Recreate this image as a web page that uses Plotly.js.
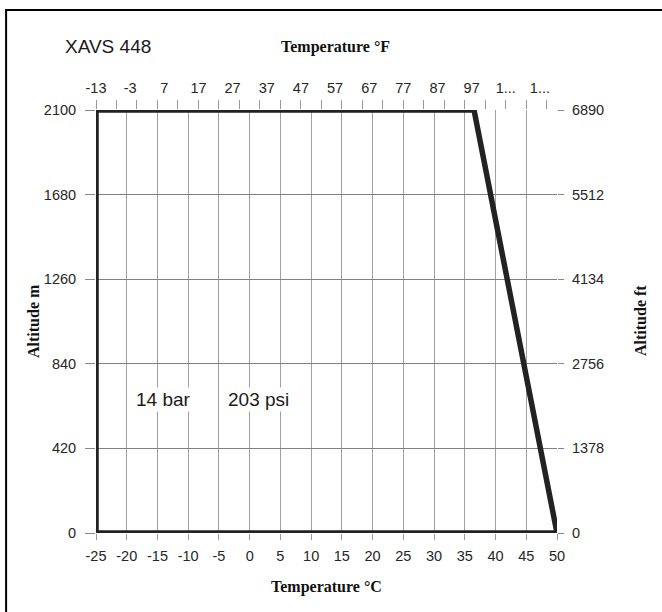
<!DOCTYPE html>
<html>
<head>
<meta charset="utf-8">
<script src="https://cdn.plot.ly/plotly-3.0.1.min.js"></script>
<style>html,body{margin:0;padding:0;background:#fff;}#chart{width:662px;height:612px;}</style>
</head>
<body>
<div id="chart"></div>
<script>
// Operating envelope (°C vs altitude m)
const envelopeTempC = [-25, -25, 36.5, 50, -25];
const envelopeAltM = [0, 2100, 2100, 0, 0];

// Axis ticks
const tempCTicks = [-25, -20, -15, -10, -5, 0, 5, 10, 15, 20, 25, 30, 35, 40, 45, 50];
const tempCLabels = ['-25', '-20', '-15', '-10', '-5', '0', '5', '10', '15', '20', '25', '30', '35', '40', '45', '50'];
const tempFTicks = [-13, -3, 7, 17, 27, 37, 47, 57, 67, 77, 87, 97, 107, 117];
const tempFLabels = ['-13', '-3', '7', '17', '27', '37', '47', '57', '67', '77', '87', '97', '1...', '1...'];
const altMTicks = [0, 420, 840, 1260, 1680, 2100];
const altFtTicks = [0, 1378, 2756, 4134, 5512, 6890];

const tickFont = {family: 'Liberation Sans, Arial, sans-serif', size: 14.5, color: '#262626'};
const titleFont = {family: 'Liberation Serif, Times New Roman, serif', size: 16, color: '#111', weight: 'bold'};
const bigFont = {family: 'Liberation Sans, Arial, sans-serif', size: 19, color: '#1a1a1a'};

// pixel helpers for annotation placement (plot area: x 96..557, y 110..533)
function px(x) { return (x - 96) / 461; }
function py(y) { return (533 - y) / 423; }

const traces = [
  {
    x: envelopeTempC, y: envelopeAltM, type: 'scatter', mode: 'lines',
    line: {color: '#222', width: 5.5}, cliponaxis: false, showlegend: false, hoverinfo: 'skip'
  },
  { x: [-13, 122], y: [0, 6890], xaxis: 'x2', yaxis: 'y2', type: 'scatter', mode: 'none', showlegend: false, hoverinfo: 'skip' }
];

function ann(text, x, y, font, extra) {
  return Object.assign({text: text, xref: 'paper', yref: 'paper', x: px(x), y: py(y),
    xanchor: 'center', yanchor: 'middle', showarrow: false, font: font}, extra || {});
}

const layout = {
  width: 662, height: 612,
  margin: {l: 96, r: 105, t: 110, b: 79},
  paper_bgcolor: '#fff', plot_bgcolor: '#fff',
  showlegend: false,
  xaxis: {
    range: [-25, 50], tickvals: tempCTicks, ticktext: tempCLabels, ticks: 'outside', ticklen: 6, tickcolor: '#999',
    showgrid: true, gridcolor: '#a0a0a0', gridwidth: 1, zeroline: false, showline: false,
    tickfont: tickFont, ticklabelstandoff: 4, fixedrange: true
  },
  xaxis2: {
    overlaying: 'x', side: 'top', range: [-13, 122], tickvals: tempFTicks, ticktext: tempFLabels,
    ticks: '', showgrid: false, zeroline: false, showline: false, tickfont: tickFont,
    ticklabelstandoff: 13,
    minor: {ticks: 'outside', ticklen: 9, tick0: -13, dtick: 6, tickcolor: '#999', showgrid: false},
    fixedrange: true
  },
  yaxis: {
    range: [0, 2100], tickvals: altMTicks, ticks: 'outside', ticklen: 10, tickcolor: '#888',
    showgrid: true, gridcolor: '#808080', gridwidth: 1, zeroline: false, showline: false,
    tickfont: tickFont, ticklabelstandoff: 6, fixedrange: true
  },
  yaxis2: {
    overlaying: 'y', side: 'right', range: [0, 6890], tickvals: altFtTicks, ticks: 'outside', ticklen: 6,
    tickcolor: '#888', showgrid: false, zeroline: false, showline: false, tickfont: tickFont,
    ticklabelstandoff: 5, fixedrange: true
  },
  shapes: [
    {type: 'rect', xref: 'paper', yref: 'paper', x0: -0.195, x1: 2, y0: -1, y1: 1.2364,
     line: {color: '#000', width: 2}, fillcolor: 'rgba(0,0,0,0)', layer: 'below'}
  ],
  annotations: [
    ann('XAVS 448', 108, 47, bigFont),
    ann('Temperature °F', 335, 47, titleFont),
    ann('Temperature °C', 326, 587, titleFont),
    ann('Altitude m', 33, 321, titleFont, {textangle: -90}),
    ann('Altitude ft', 640, 321, titleFont, {textangle: -90}),
    ann('14 bar', 163, 399, bigFont, {bgcolor: '#fff'}),
    ann('203 psi', 258, 399, bigFont, {bgcolor: '#fff'})
  ]
};

Plotly.newPlot('chart', traces, layout, {displayModeBar: false, staticPlot: true});
</script>
</body>
</html>
